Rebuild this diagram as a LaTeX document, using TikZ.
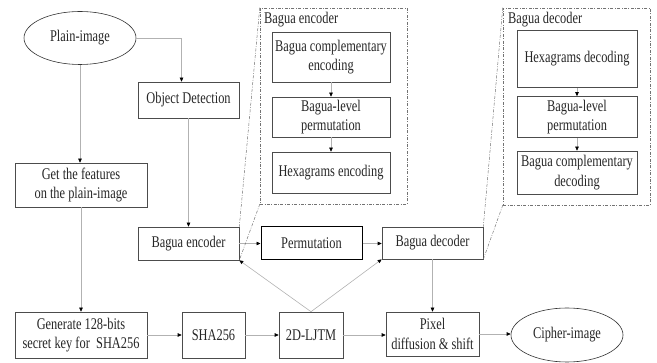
\documentclass[tikz,border=0pt]{standalone}
\usepackage{fontspec}
\setmainfont{Liberation Serif}[FakeStretch=0.76]
\usetikzlibrary{arrows.meta,shapes.geometric}
\begin{document}
\begin{tikzpicture}[x=1pt,y=-1pt,
  every node/.style={font=\fontsize{16.3}{19.5}\selectfont, text=black!85},
  box/.style={draw=black!70, line width=0.6pt, align=center, inner sep=0pt, rectangle},
  thickbox/.style={box, draw=black, line width=1pt},
  oval/.style={draw=black!80, line width=0.6pt, ellipse, inner sep=0pt},
  conn/.style={draw=black!30, line width=0.6pt, -{Triangle[length=4pt,width=3.5pt,color=black]}},
  callout/.style={draw=black!55, line width=0.5pt, dash pattern=on 3pt off 1.5pt on 0.8pt off 1.5pt},
  grp/.style={callout, rectangle, inner sep=0pt}]
\useasboundingbox (0,0) rectangle (657,363);
% left column
\node[oval, minimum width=112pt, minimum height=53pt] (plain) at (80,38) {Plain-image};
\node[box, minimum width=101pt, minimum height=36pt] (objdet) at (188.5,100) {Object Detection};
\node[box, minimum width=132pt, minimum height=44pt] (feat) at (81,185) {Get the features\\on the plain-image};
\node[box, minimum width=132pt, minimum height=46pt] (gen) at (81,335) {Generate 128-bits\\secret key for~ SHA256};
\node[box, minimum width=63pt, minimum height=46pt] (sha) at (213.5,335) {SHA256};
\node[box, minimum width=64pt, minimum height=46pt] (ljtm) at (311,335) {2D-LJTM};
\node[box, minimum width=93pt, minimum height=44pt] (pix) at (432.5,334) {Pixel\\diffusion \& shift};
\node[oval, minimum width=112pt, minimum height=54pt] (cipher) at (567,335) {Cipher-image};
% middle row
\node[box, minimum width=101pt, minimum height=33pt] (benc) at (188.5,243.5) {Bagua encoder};
\node[thickbox, minimum width=101pt, minimum height=33pt] (perm) at (311.5,243.5) {Permutation};
\node[box, minimum width=101pt, minimum height=32pt] (bdec) at (432.5,243) {Bagua decoder};
% encoder group
\node[grp, minimum width=147pt, minimum height=196pt] (encgrp) at (333.5,106) {};
\node[anchor=west, inner sep=0pt] (enclab) at (264,20) {Bagua encoder};
\node[box, minimum width=118pt, minimum height=50pt] (enc1) at (331,57) {Bagua complementary\\encoding};
\node[box, minimum width=118pt, minimum height=40pt] (enc2) at (331,117) {Bagua-level\\permutation};
\node[box, minimum width=118pt, minimum height=41pt] (enc3) at (331,172.5) {Hexagrams encoding};
% decoder group
\node[grp, minimum width=147pt, minimum height=197pt] (decgrp) at (576.5,106.5) {};
\node[anchor=west, inner sep=0pt] (declab) at (508,20) {Bagua decoder};
\node[box, minimum width=120pt, minimum height=57pt] (dec1) at (577,59) {Hexagrams decoding};
\node[box, minimum width=120pt, minimum height=41pt] (dec2) at (577,117) {Bagua-level\\permutation};
\node[box, minimum width=120pt, minimum height=43pt] (dec3) at (577,172.5) {Bagua complementary\\decoding};
% connectors
\draw[conn] (plain.east) -| ([xshift=-7pt]objdet.north);
\draw[conn] (plain.south) -- (plain.south |- feat.north);
\draw[conn] (feat.south) -- (feat.south |- gen.north);
\draw[conn] (objdet.south) -- (benc.north);
\draw[conn] (gen.east) -- (sha.west);
\draw[conn] (sha.east) -- (ljtm.west);
\draw[conn] (ljtm.east) -- (ljtm.east -| pix.west);
\draw[conn] (pix.east) -- (pix.east -| cipher.west);
\draw[conn] (benc.east) -- (perm.west);
\draw[conn] (perm.east) -- (perm.east -| bdec.west);
\draw[conn] (ljtm.north) -- (benc.south east);
\draw[conn] (ljtm.north) -- (bdec.south west);
\draw[conn] (bdec.south) -- (bdec.south |- pix.north);
\draw[conn] (enc1.south) -- (enc2.north);
\draw[conn] (enc2.south) -- (enc3.north);
\draw[conn] (dec1.south) -- (dec2.north);
\draw[conn] (dec2.south) -- (dec3.north);
% callout lines
\draw[callout] (encgrp.north west) -- (benc.north east);
\draw[callout] (encgrp.south west) -- (benc.south east);
\draw[callout] (decgrp.north west) -- (bdec.north east);
\draw[callout] (decgrp.south west) -- (bdec.south east);
\end{tikzpicture}
\end{document}
